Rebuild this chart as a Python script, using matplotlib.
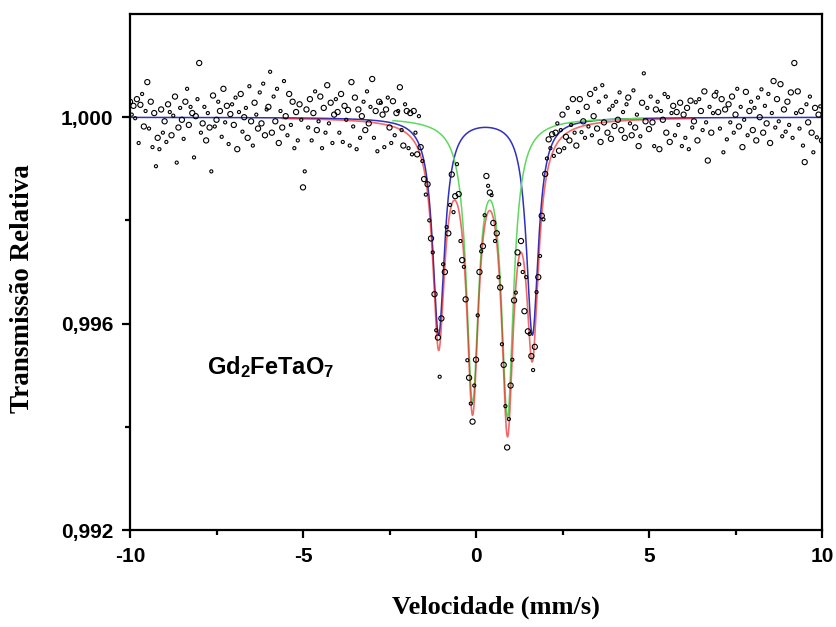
import numpy as np
import matplotlib
matplotlib.use("Agg")
import matplotlib.pyplot as plt
from matplotlib.ticker import FixedLocator, FuncFormatter

# Velocity scan (mm/s); channels are equally spaced over the scan
V_MIN, V_MAX = -10.0, 10.0

# Measured relative transmission, deviation from 1 in units of 1e-5
delta_e5 = [
    30, 5, 22, -2, 35, -50, 24, 45, -18, 12, 68, -22, 30, -58, 8, -95, -40, -62, 15, -30,
    -8, -48, 25, 10, -35, 3, 40, -88, -20, 18, -5, -42, 30, 55, -15, 20, 8, -78, 2, 35,
    105, -30, -12, 20, -45, 8, -20, -105, 42, -18, -5, 30, 12, -38, 55, -10, 22, -52, 6, 25,
    -15, 38, -62, 10, 45, -28, 0, 18, -40, 60, -8, -55, 28, 5, -22, 48, -12, 65, -35, 15,
    20, 88, -30, 40, -8, 55, -50, 12, -20, 70, 2, -35, 45, -15, 30, -60, 10, -45, 25, -5,
    -136, -105, 15, -20, 35, -45, 8, 50, -25, -8, 40, -60, 18, -30, 62, -12, 28, -50, 5, 35,
    10, -30, 45, -48, 22, -5, 14, -55, 68, -18, 38, -62, 15, -40, 2, 30, -25, 50, -12, 20,
    74, -40, 12, -66, 30, 28, 5, -58, 15, 38, -20, -50, 31, -35, 8, 12, 58, -25, -55, 25,
    12, -60, 8, -72, 12, -30, -72, 2, -58, -85, -120, -150, -130, -200, -235, -262, -343, -413, -427, -503,
    -390, -285, -300, -213, -225, -170, -111, -184, -153, -91, -149, -240, -277, -290, -353, -471, -505, -555, -590, -520,
    -470, -384, -300, -260, -250, -190, -114, -133, -146, -151, -205, -240, -225, -310, -330, -440, -480, -560, -640, -585,
    -520, -470, -355, -340, -262, -285, -240, -300, -376, -310, -415, -420, -463, -490, -445, -339, -310, -269, -191, -198,
    -110, -80, -43, -60, -33, -75, -30, -12, -65, -25, 5, -60, -38, 18, -45, -15, 35, -30, -55, 10,
    35, -29, -8, -40, 20, -18, 45, -35, 2, 55, -22, 30, -48, 62, -10, 40, -30, 15, -42, 22,
    -17, 30, -5, 48, -25, 10, -40, 25, 38, -12, -35, 52, -20, 5, -56, -37, 28, 85, -8, 18,
    -23, 40, -10, -56, 15, 30, -62, 12, -5, 45, -30, 39, -48, 8, 22, -35, 10, -15, 28, -56,
    5, -40, 18, -62, 32, -20, -8, 29, -45, 35, 12, -25, 50, -10, -84, 20, -30, 8, 42, 49,
    10, -22, 35, -68, 15, -43, 25, -10, 40, -30, 5, 55, -18, 20, -58, -5, 49, -35, 12, 30,
    -25, 18, -45, 38, 0, 54, -30, 22, -12, 45, -50, 8, 70, -20, 35, -8, 64, -37, 15, -28,
    30, -15, 48, -40, 105, 8, 50, -22, 12, -55, -87, 25, -10, 40, -30, -68, 18, -39, 5, 21, -45,
]

# Fitted quadrupole doublets: isomer shift, splitting, line width (mm/s)
site_names = ["Fe site A", "Fe site B"]
site_shift = [0.275, 0.405]
site_split = [2.71, 1.01]
site_fwhm = [0.42, 0.42]
site_depths = [[0.0042, 0.0042], [0.0053, 0.0056]]

# Velocity windows over which each fitted curve is drawn
site_a_range = (-10.0, 10.0)
site_b_range = (-2.4, 4.8)
total_range = (-5.6, 6.3)


def doublet_absorption(v, i):
    hw = site_fwhm[i] / 2.0
    centers = [site_shift[i] - site_split[i] / 2.0, site_shift[i] + site_split[i] / 2.0]
    return sum(d * hw ** 2 / (hw ** 2 + (v - c) ** 2) for c, d in zip(centers, site_depths[i]))


transmission = 1.0 + np.array(delta_e5) * 1e-5
velocity = np.linspace(V_MIN, V_MAX, len(transmission))

fig = plt.figure(figsize=(8.36, 6.27), dpi=100)
ax = fig.add_axes([130 / 836, 1 - 530 / 627, (822 - 130) / 836, (530 - 14) / 627])

va = np.linspace(*site_a_range, 4000)
vb = np.linspace(*site_b_range, 2000)
vt = np.linspace(*total_range, 3000)

ax.plot(va, 1 - doublet_absorption(va, 0), color="#2f2fc0", lw=1.1, zorder=2)
ax.plot(vb, 1 - doublet_absorption(vb, 1), color="#5fd85f", lw=1.1, zorder=2.2)
ax.plot(vt, 1 - doublet_absorption(vt, 0) - doublet_absorption(vt, 1),
        color="#e81010", lw=1.2, alpha=0.62, zorder=2.4)

# experimental points, open circles
ax.scatter(velocity[::2], transmission[::2], s=14, facecolors="none",
           edgecolors="black", linewidths=0.8, zorder=4)
ax.scatter(velocity[1::2], transmission[1::2], s=5, facecolors="none",
           edgecolors="black", linewidths=0.8, zorder=4)

ax.set_xlim(V_MIN, V_MAX)
ax.set_ylim(0.992, 1.002)

ax.xaxis.set_major_locator(FixedLocator([-10, -5, 0, 5, 10]))
ax.xaxis.set_minor_locator(FixedLocator([-7.5, -2.5, 2.5, 7.5]))
ax.yaxis.set_major_locator(FixedLocator([0.992, 0.996, 1.000]))
ax.yaxis.set_minor_locator(FixedLocator([0.994, 0.998]))
ax.xaxis.set_major_formatter(FuncFormatter(lambda x, p: f"{x:.0f}".replace("\u2212", "-")))
ax.yaxis.set_major_formatter(FuncFormatter(lambda y, p: f"{y:.3f}".replace(".", ",")))

for s in ax.spines.values():
    s.set_linewidth(1.6)
ax.tick_params(which="both", direction="out", top=False, right=False, width=1.6)
ax.tick_params(which="major", length=6, pad=6)
ax.tick_params(which="minor", length=3.5)
for lab in ax.get_xticklabels() + ax.get_yticklabels():
    lab.set_fontfamily("Liberation Sans")
    lab.set_fontweight("bold")
    lab.set_fontsize(15)

plt.rcParams["mathtext.fontset"] = "custom"
plt.rcParams["mathtext.bf"] = "Liberation Sans:bold"
plt.rcParams["mathtext.rm"] = "Liberation Sans:bold"
ax.text(-7.77, 0.99503, r"$\mathbf{Gd_2FeTaO_7}$", fontsize=17, va="baseline", ha="left")

fig.text(23 / 836, 1 - 289 / 627, "Transmissão Relativa", rotation=90, ha="center", va="center",
         fontfamily="Liberation Serif", fontweight="bold", fontsize=19.5)
fig.text(496 / 836, 1 - 614 / 627, "Velocidade (mm/s)", ha="center", va="baseline",
         fontfamily="Liberation Serif", fontweight="bold", fontsize=19)

fig.savefig("out.png", dpi=100)
